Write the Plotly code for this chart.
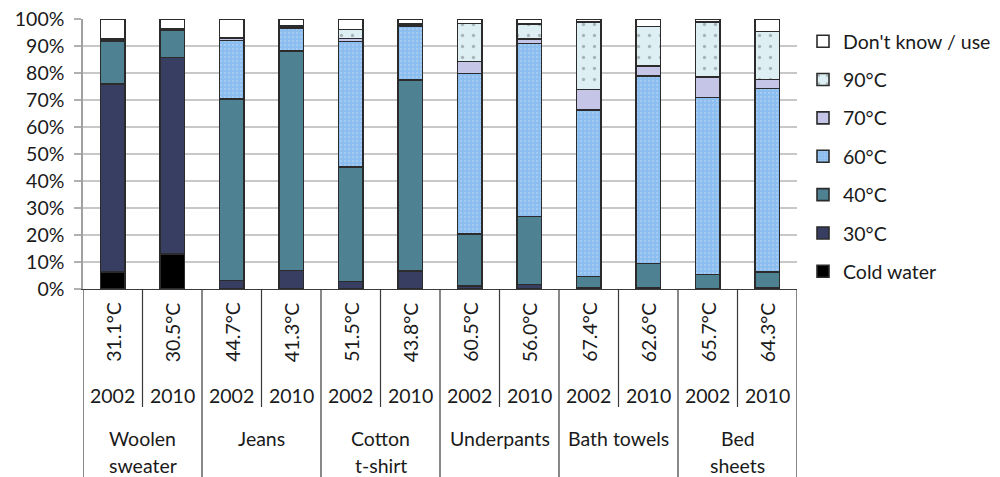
import plotly.graph_objects as go

# ---- data ----
temps = ["31.1°C", "30.5°C", "44.7°C", "41.3°C", "51.5°C", "43.8°C",
         "60.5°C", "56.0°C", "67.4°C", "62.6°C", "65.7°C", "64.3°C"]
years = ["2002", "2010"] * 6
items = ["Woolen<br>sweater", "Jeans", "Cotton<br>t-shirt", "Underpants",
         "Bath towels", "Bed<br>sheets"]

cold_water = [6.2, 13.0, None, None, None, None, None, None, None, None, None, None]
c30 = [69.7, 72.8, 3.1, 6.8, 2.8, 6.6, 1.2, 1.6, 0.3, 0.3, None, 0.3]
c40 = [15.7, 9.9, 67.2, 81.4, 42.4, 70.8, 19.2, 25.3, 4.3, 9.2, 5.3, 5.9]
c60 = [0.5, 0.3, 21.7, 8.3, 46.4, 20.0, 59.4, 64.1, 61.6, 69.3, 65.6, 68.1]
c70 = [0.3, 0.2, 0.8, 0.5, 1.2, 0.6, 4.4, 1.5, 7.7, 3.7, 7.7, 3.3]
c90 = [0.2, 0.2, 0.4, 0.3, 3.3, 0.4, 14.2, 5.6, 25.1, 14.7, 20.4, 17.7]
dont_know = [7.4, 3.6, 6.8, 2.7, 3.9, 1.6, 1.6, 1.9, 1.0, 2.8, 1.0, 4.7]

series = [
    ("Cold water", cold_water, "#000000", None),
    ("30°C", c30, "#383E62", None),
    ("40°C", c40, "#4E8191", None),
    ("60°C", c60, "#8DBFF0", dict(shape=".", fgcolor="#A6CCF4", bgcolor="#8BBDEF", size=4, solidity=0.25, fillmode="replace")),
    ("70°C", c70, "#C5C5E8", None),
    ("90°C", c90, "#DDEFF3", dict(shape=".", fgcolor="#A8B4B8", bgcolor="#DDEFF3", size=11, solidity=0.07, fillmode="replace")),
    ("Don't know / use", dont_know, "#FFFFFF", None),
]

FONT = "Lato, 'Open Sans', sans-serif"
FS = 19.5
TXT = "#1a1a1a"

xs = list(range(len(temps)))
fig = go.Figure()
n = len(series)
for k, (name, vals, color, pat) in enumerate(series):
    marker = dict(color=color, line=dict(color="#2b2b2b", width=1.6))
    if pat:
        marker["pattern"] = pat
    fig.add_trace(go.Bar(x=xs, y=vals, name=name, marker=marker, width=0.41,
                         legendgroup=name, legendrank=n - k))

# plot area geometry in pixels
L, R, T, B = 83, 203, 19, 188
W, H = 1000, 477
ph = H - T - B

def py(p):
    return (H - B - p) / ph

ann = []
for i, t in enumerate(temps):
    ann.append(dict(x=i, y=py(332), xref="x", yref="paper", text=t, textangle=-90,
                    showarrow=False, font=dict(family=FONT, size=FS, color=TXT),
                    xanchor="center", yanchor="middle"))
for i, yr in enumerate(years):
    ann.append(dict(x=i, y=py(395), xref="x", yref="paper", text=yr,
                    showarrow=False, font=dict(family=FONT, size=FS, color=TXT),
                    xanchor="center", yanchor="middle"))
for g, it in enumerate(items):
    for k, line in enumerate(it.split("<br>")):
        ann.append(dict(x=2 * g + 0.5, y=py(438 + 27 * k), xref="x", yref="paper",
                        text=line, showarrow=False,
                        font=dict(family=FONT, size=FS, color=TXT),
                        xanchor="center", yanchor="middle"))

shapes = []
for j in range(len(temps) + 1):
    xpos = j - 0.5
    y1 = py(480) if j % 2 == 0 else py(407)
    shapes.append(dict(type="line", xref="x", yref="paper", x0=xpos, x1=xpos,
                       y0=0, y1=y1, line=dict(color="#3a3a3a", width=1.2)))

fig.update_layout(
    width=W, height=H,
    margin=dict(l=L, r=R, t=T, b=B, pad=0, autoexpand=False),
    barmode="stack",
    plot_bgcolor="white", paper_bgcolor="white",
    font=dict(family=FONT, size=FS, color=TXT),
    xaxis=dict(range=[-0.5, len(temps) - 0.5], showticklabels=False, showgrid=False,
               zeroline=False, showline=True, linecolor="#3a3a3a", linewidth=1.2,
               fixedrange=True, automargin=False),
    yaxis=dict(range=[0, 100], dtick=10, ticksuffix="%", showgrid=True,
               gridcolor="#c8c8c8", gridwidth=1.5, zeroline=False,
               showline=True, linecolor="#a0a0a0", linewidth=1.5,
               ticks="outside", ticklen=7, tickcolor="#b0b0b0", tickwidth=1.5,
               ticklabelstandoff=6,
               tickfont=dict(family=FONT, size=FS, color=TXT), fixedrange=True,
               automargin=False),
    legend=dict(x=(803 - L) / (W - L - R), y=py(22), xanchor="left", yanchor="top",
                traceorder="grouped", tracegroupgap=10, maxheight=477,
                font=dict(family=FONT, size=FS, color=TXT), bgcolor="rgba(0,0,0,0)"),
    annotations=ann,
    shapes=shapes,
    showlegend=True,
)

fig.write_html("out.html", config={"displayModeBar": False},
               post_script="document.body.style.margin='0';")
